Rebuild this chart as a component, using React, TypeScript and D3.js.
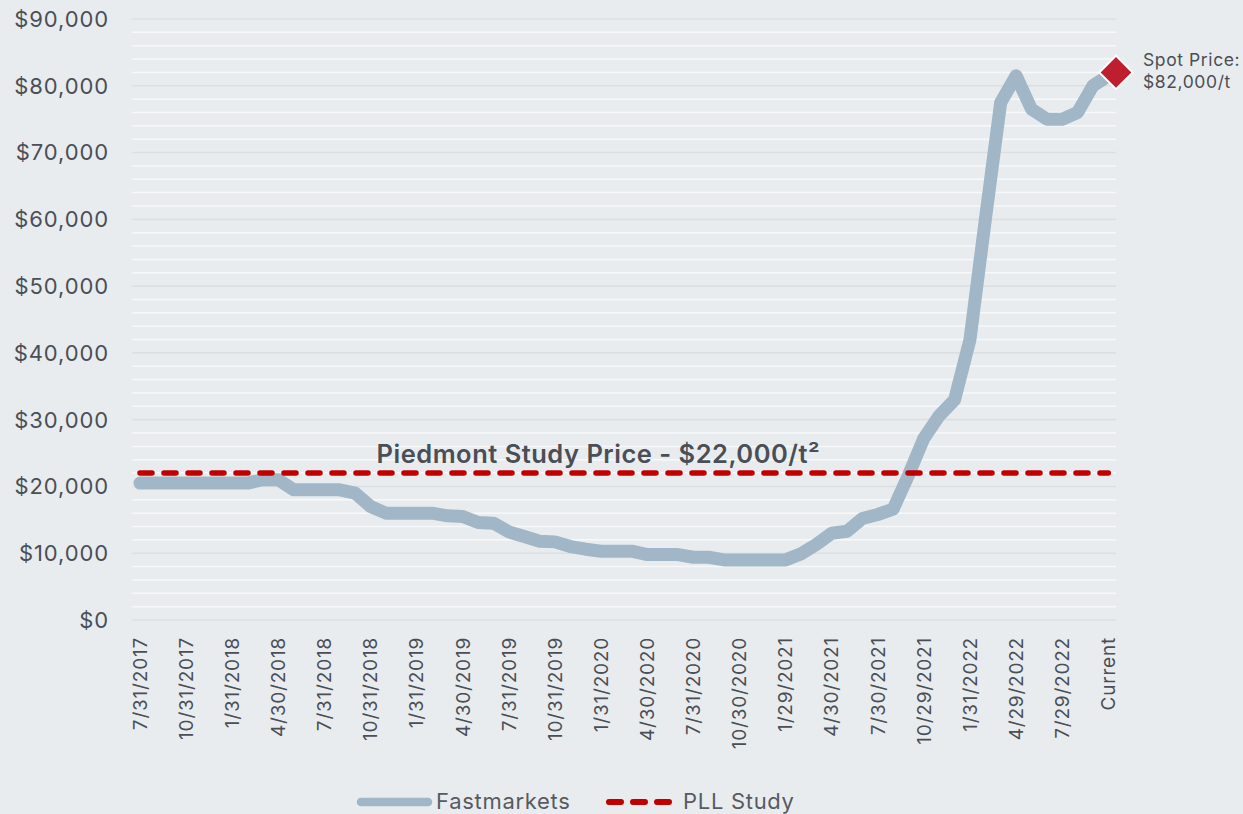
import React from "react";
import * as d3 from "d3";

const categories: string[] = [
  "7/31/2017", "8/31/2017", "9/29/2017", "10/31/2017", "11/30/2017", "12/29/2017",
  "1/31/2018", "2/28/2018", "3/30/2018", "4/30/2018", "5/31/2018", "6/29/2018",
  "7/31/2018", "8/31/2018", "9/28/2018", "10/31/2018", "11/30/2018", "12/31/2018",
  "1/31/2019", "2/28/2019", "3/29/2019", "4/30/2019", "5/31/2019", "6/28/2019",
  "7/31/2019", "8/30/2019", "9/30/2019", "10/31/2019", "11/29/2019", "12/31/2019",
  "1/31/2020", "2/28/2020", "3/31/2020", "4/30/2020", "5/29/2020", "6/30/2020",
  "7/31/2020", "8/31/2020", "9/30/2020", "10/30/2020", "11/30/2020", "12/31/2020",
  "1/29/2021", "2/26/2021", "3/31/2021", "4/30/2021", "5/31/2021", "6/30/2021",
  "7/30/2021", "8/31/2021", "9/30/2021", "10/29/2021", "11/30/2021", "12/31/2021",
  "1/31/2022", "2/28/2022", "3/31/2022", "4/29/2022", "5/31/2022", "6/30/2022",
  "7/29/2022", "8/31/2022", "9/30/2022", "Current",
];

const fastmarkets: number[] = [
  20500, 20500, 20500, 20500, 20500, 20500, 20500, 20500, 21000, 21000,
  19500, 19500, 19500, 19500, 19000, 17000, 16000, 16000, 16000, 16000,
  15600, 15500, 14600, 14500, 13200, 12500, 11800, 11700, 11000, 10600,
  10300, 10300, 10300, 9800, 9800, 9800, 9400, 9400, 9000, 9000,
  9000, 9000, 9000, 9900, 11300, 13000, 13300, 15200, 15800, 16600,
  21700, 27200, 30600, 33000, 42000, 60000, 77500, 81500, 76500, 75000,
  75000, 76000, 80000, 81500,
];

const pllStudyPrice = 22000;
const spotPrice = 82000;

const yTicks: number[] = [0, 10000, 20000, 30000, 40000, 50000, 60000, 70000, 80000, 90000];
const yMinorStep = 2000;
const tickEvery = 3;

const seriesNames = ["Fastmarkets", "PLL Study"];
const studyLabel = "Piedmont Study Price - $22,000/t²";
const spotLabel = ["Spot Price:", "$82,000/t"];

const W = 1243;
const H = 814;
const FONT = "Inter, 'Noto Sans', sans-serif";
const TEXT = "#4a4f56";
const LINE = "#a1b7c7";
const RED = "#c00000";

export default function App() {
  const x = d3.scaleBand<string>().domain(categories).range([132.3, 1116]).padding(0);
  const bw = x.bandwidth();
  const xc = (c: string) => (x(c) as number) + bw / 2;
  const y = d3.scaleLinear().domain([0, 90000]).range([620, 19]);

  const minor = d3.range(0, 90001, yMinorStep).filter((v) => v % 10000 !== 0);
  const line = d3
    .line<number>()
    .x((_, i) => xc(categories[i]))
    .y((d) => y(d));

  const fmt = (v: number) => "$" + d3.format(",")(v);
  const x0 = x.range()[0];
  const x1 = x.range()[1];
  const first = categories[0];
  const last = categories[categories.length - 1];

  const diamond = d3.symbol().type(d3.symbolSquare).size(560)() as string;

  return (
    <svg
      width={W}
      height={H}
      style={{ position: "absolute", left: 0, top: 0, display: "block" }}
      fontFamily={FONT}
    >
      <rect width={W} height={H} fill="#e9ecef" />
      {minor.map((v) => (
        <line key={"m" + v} x1={x0} x2={x1} y1={y(v)} y2={y(v)} stroke="#f7f8f9" strokeWidth={1.5} />
      ))}
      {yTicks.map((v) => (
        <line key={"g" + v} x1={x0} x2={x1} y1={y(v)} y2={y(v)} stroke="#dcdfe2" strokeWidth={1.6} />
      ))}
      {yTicks.map((v) => (
        <text key={"t" + v} x={109} y={y(v)} dy="0.36em" textAnchor="end" fontSize={22} letterSpacing={0.9} fill={TEXT}>
          {fmt(v)}
        </text>
      ))}
      {categories.map((c, i) =>
        i % tickEvery === 0 ? (
          <text
            key={"x" + c}
            transform={`translate(${xc(c)},637) rotate(-90)`}
            dy="0.36em"
            textAnchor="end"
            fontSize={19}
            letterSpacing={0.8}
            fill={TEXT}
          >
            {c}
          </text>
        ) : null
      )}
      <path
        d={line(fastmarkets) as string}
        fill="none"
        stroke={LINE}
        strokeWidth={13}
        strokeLinejoin="round"
        strokeLinecap="round"
      />
      <line
        x1={xc(first)}
        x2={xc(last)}
        y1={y(pllStudyPrice)}
        y2={y(pllStudyPrice)}
        stroke={RED}
        strokeWidth={5.5}
        strokeDasharray="12 12"
        strokeLinecap="round"
      />
      <text
        x={xc(categories[15]) + 6}
        y={y(pllStudyPrice) - 10}
        fontSize={25.5}
        fontWeight={600}
        letterSpacing={0.5}
        fill={TEXT}
      >
        {studyLabel}
      </text>
      <path
        d={diamond}
        transform={`translate(${x1},${y(spotPrice)}) rotate(45)`}
        fill="#be1e2d"
        stroke="#ffffff"
        strokeWidth={2}
      />
      <text x={1143} y={y(spotPrice)} fontSize={17.5} letterSpacing={0.6} fill={TEXT}>
        <tspan x={1143} dy="-0.35em">{spotLabel[0]}</tspan>
        <tspan x={1143} dy="1.25em">{spotLabel[1]}</tspan>
      </text>
      <g>
        <line x1={361} x2={428} y1={802} y2={802} stroke={LINE} strokeWidth={8.5} strokeLinecap="round" />
        <text x={436} y={809} fontSize={22} letterSpacing={0.7} fill="#565b62">{seriesNames[0]}</text>
        <line
          x1={609}
          x2={669}
          y1={802}
          y2={802}
          stroke={RED}
          strokeWidth={6}
          strokeDasharray="12 12"
          strokeLinecap="round"
        />
        <text x={683} y={809} fontSize={22} letterSpacing={0.7} fill="#565b62">{seriesNames[1]}</text>
      </g>
    </svg>
  );
}
